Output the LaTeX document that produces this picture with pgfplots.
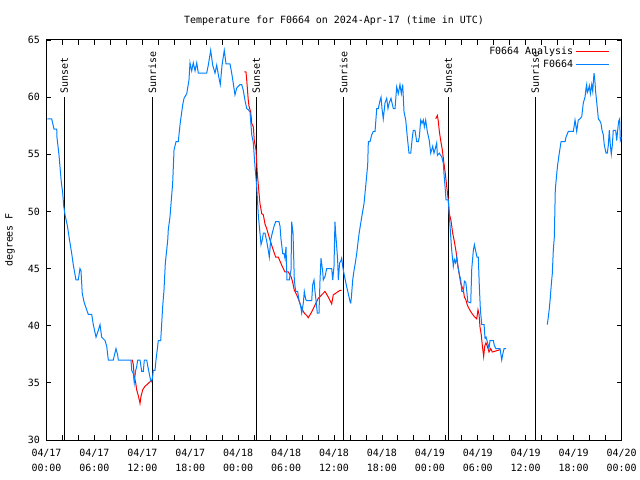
\documentclass[border=0pt]{standalone}
\usepackage{fontspec}
\setmainfont{DejaVu Sans Mono}
\usepackage{pgfplots}
\pgfplotsset{compat=1.18}
\definecolor{obsblue}{RGB}{0,128,255}
\definecolor{anared}{RGB}{255,0,0}
\begin{document}
\begin{tikzpicture}
\begin{axis}[
  name=ax, at={(0,0)}, anchor=south west,
  scale only axis, width=575bp, height=400bp,
  xmin=0, xmax=72, ymin=30, ymax=65,
  xtick={0,6,...,72}, minor xtick={0,2,...,72},
  xticklabels={{04/17\\00:00},{04/17\\06:00},{04/17\\12:00},{04/17\\18:00},{04/18\\00:00},{04/18\\06:00},{04/18\\12:00},{04/18\\18:00},{04/19\\00:00},{04/19\\06:00},{04/19\\12:00},{04/19\\18:00},{04/20\\00:00}},
  x tick label style={align=center, font=\fontsize{10}{15}\selectfont, yshift=-6bp},
  ytick={30,35,...,65},
  y tick label style={font=\fontsize{10}{12}\selectfont, xshift=-3bp, /pgf/number format/assume math mode=true},
  tick align=inside, major tick length=5bp, minor tick length=5bp,
  tick style={black, line width=0.8bp},
  axis line style={line width=1bp, black},
  unbounded coords=jump,
  legend plot pos=right, legend cell align=right,
  legend style={draw=none, fill=none, at={(1,1)}, anchor=north east, xshift=-9bp, yshift=-1bp,
    font=\fontsize{10}{13}\selectfont, row sep=-3bp,
    nodes={text height=9bp, text depth=3bp}},
]
% sunset / sunrise lines
\addplot[black, line width=1bp, forget plot] coordinates {(2.22,60) (2.22,30)};
\addplot[black, line width=1bp, forget plot] coordinates {(13.25,60) (13.25,30)};
\addplot[black, line width=1bp, forget plot] coordinates {(26.25,60) (26.25,30)};
\addplot[black, line width=1bp, forget plot] coordinates {(37.20,60) (37.20,30)};
\addplot[black, line width=1bp, forget plot] coordinates {(50.29,60) (50.29,30)};
\addplot[black, line width=1bp, forget plot] coordinates {(61.19,60) (61.19,30)};
\node[rotate=90, anchor=west, inner sep=0pt, font=\fontsize{10}{12}\selectfont] at (axis cs:2.22,60.3) {Sunset};
\node[rotate=90, anchor=west, inner sep=0pt, font=\fontsize{10}{12}\selectfont] at (axis cs:13.25,60.3) {Sunrise};
\node[rotate=90, anchor=west, inner sep=0pt, font=\fontsize{10}{12}\selectfont] at (axis cs:26.25,60.3) {Sunset};
\node[rotate=90, anchor=west, inner sep=0pt, font=\fontsize{10}{12}\selectfont] at (axis cs:37.20,60.3) {Sunrise};
\node[rotate=90, anchor=west, inner sep=0pt, font=\fontsize{10}{12}\selectfont] at (axis cs:50.29,60.3) {Sunset};
\node[rotate=90, anchor=west, inner sep=0pt, font=\fontsize{10}{12}\selectfont] at (axis cs:61.19,60.3) {Sunrise};
% F0664 Analysis
\addplot[anared, line width=1bp,
  legend image code/.code={\path (0bp,0bp) -- (33bp,0bp); \draw[color=anared, line width=1.2bp] (4bp,0bp) -- (33bp,0bp);}] coordinates {
(10.67,37.0) (10.74,37.0) (10.87,36.6) (10.99,35.5) (11.17,35.0) (11.29,34.4) (11.49,33.9) (11.62,33.5) (11.71,33.2) (11.83,33.8) (12.05,34.4) (12.33,34.7) (12.67,34.9) (12.96,35.1) (13.09,35.2)
(13.1,nan)
(24.77,62.2) (24.98,62.2) (25.07,61.5) (25.27,59.7) (25.36,59.2) (25.57,58.7) (25.70,57.7) (25.90,57.4) (26.02,56.2) (26.23,55.4) (26.40,53.3) (26.61,51.6) (26.73,50.7) (26.95,49.8) (27.15,49.7) (27.36,48.9) (27.57,48.5) (27.99,47.5) (28.40,46.6) (28.70,46.0) (29.03,46.0) (29.45,45.3) (29.86,44.7) (30.28,44.7) (30.62,44.3) (30.83,43.8) (31.03,43.1) (31.33,42.7) (31.62,42.2) (31.96,41.5) (32.28,41.1) (32.58,40.9) (32.78,40.7) (33.12,41.1) (33.62,41.8) (34.03,42.4) (34.46,42.7) (34.87,43.0) (35.29,42.5) (35.71,41.9) (35.91,42.7) (36.34,42.9) (36.75,43.1) (36.96,43.1)
(37.0,nan)
(48.74,58.1) (48.94,58.4) (49.06,57.9) (49.19,57.0) (49.36,56.2) (49.56,55.4) (49.77,54.2) (49.94,53.3) (50.11,52.2) (50.31,51.0) (50.44,49.8) (50.65,49.2) (50.86,48.1) (51.06,47.4) (51.28,46.5) (51.44,45.6) (51.66,44.6) (51.87,43.7) (52.20,43.1) (52.33,42.5) (52.54,42.2) (52.70,41.8) (52.91,41.5) (53.24,41.1) (53.57,40.8) (53.87,40.6) (54.03,41.4) (54.16,41.0) (54.28,39.9) (54.44,39.2) (54.57,38.3) (54.74,37.3) (54.87,38.2) (55.03,38.5) (55.20,38.2) (55.41,37.7) (55.62,38.0) (55.82,37.7) (56.79,37.9)
};
\addlegendentry{F0664 Analysis}
% F0664 observations
\addplot[obsblue, line width=1bp,
  legend image code/.code={\path (0bp,0bp) -- (33bp,0bp); \draw[color=obsblue, line width=1.2bp] (4bp,0bp) -- (33bp,0bp);}] coordinates {
(0.10,58.1) (0.65,58.1) (0.94,57.2) (1.28,57.2) (1.31,56.5) (1.57,54.9) (1.69,53.9) (1.85,52.6) (2.03,51.6) (2.15,50.5) (2.32,49.7) (2.60,48.8) (2.86,47.6) (3.16,46.3) (3.36,45.3) (3.69,44.0) (3.98,44.0) (4.19,45.0) (4.32,44.8) (4.48,42.8) (4.73,42.0) (5.03,41.4) (5.23,41.0) (5.66,41.0) (5.86,40.1) (6.20,39.0) (6.49,39.6) (6.70,40.1) (6.91,39.0) (7.33,38.7) (7.54,38.2) (7.74,37.0) (8.36,37.0) (8.70,38.0) (8.92,37.4) (8.99,37.0) (10.58,37.0) (10.67,36.1) (10.87,35.8) (10.99,35.0) (11.17,36.1) (11.29,36.4) (11.42,37.0) (11.71,37.0) (11.92,36.0) (12.12,36.0) (12.25,37.0) (12.55,37.0) (12.67,36.5) (12.87,35.8) (13.05,35.2) (13.17,35.1) (13.30,35.6) (13.37,36.1) (13.59,36.1) (13.71,37.0) (13.87,37.9) (14.00,38.7) (14.30,38.7) (14.55,41.7) (14.71,43.1) (14.88,45.5) (15.05,46.6) (15.18,47.5) (15.25,48.4) (15.46,49.5) (15.80,52.5) (15.97,55.4) (16.22,56.1) (16.50,56.1) (16.72,57.6) (17.05,59.3) (17.22,59.9) (17.56,60.3) (17.84,61.5) (17.97,63.0) (18.18,62.3) (18.38,63.0) (18.60,62.3) (18.81,63.0) (19.01,62.1) (20.06,62.1) (20.26,62.8) (20.56,64.1) (20.81,62.8) (21.10,62.1) (21.31,62.8) (21.56,61.8) (21.76,61.1) (21.98,62.8) (22.26,64.1) (22.48,62.9) (22.98,62.9) (23.19,62.1) (23.39,61.2) (23.60,60.2) (23.82,60.8) (24.23,61.1) (24.44,61.1) (24.64,60.6) (24.86,59.7) (25.07,59.0) (25.27,58.9) (25.48,58.7) (25.70,56.7) (25.90,56.0) (26.11,53.9) (26.32,52.2) (26.52,49.7) (26.73,48.1) (26.86,47.1) (27.02,47.5) (27.15,48.1) (27.36,48.1) (27.57,47.4) (27.77,46.6) (27.90,46.0) (28.07,47.5) (28.27,48.1) (28.49,48.7) (28.70,49.1) (29.11,49.1) (29.24,48.7) (29.36,47.6) (29.58,46.3) (29.74,46.3) (29.86,45.9) (29.99,46.9) (30.11,44.0) (30.40,44.0) (30.62,44.9) (30.70,49.1) (30.87,48.1) (31.03,44.0) (31.20,43.0) (31.45,43.0) (31.62,42.2) (31.83,41.7) (31.96,41.1) (32.16,42.0) (32.28,43.0) (32.46,42.3) (32.58,42.2) (33.00,42.2) (33.21,42.2) (33.33,43.6) (33.50,44.0) (33.62,43.0) (33.75,42.2) (33.91,41.1) (34.12,41.1) (34.25,44.0) (34.37,45.9) (34.50,45.2) (34.59,44.7) (34.66,44.0) (34.87,44.3) (35.09,45.0) (35.71,45.0) (35.84,44.0) (36.00,45.2) (36.12,49.1) (36.21,48.1) (36.34,46.9) (36.46,45.7) (36.54,44.0) (36.71,45.5) (36.88,45.7) (36.96,45.9) (37.09,45.2) (37.21,44.7) (37.38,44.1) (37.59,43.4) (37.79,42.8) (38.01,42.1) (38.10,42.0) (38.19,42.6) (38.34,44.0) (38.50,44.8) (38.67,45.5) (38.84,46.3) (39.04,47.5) (39.17,48.2) (39.47,49.5) (39.76,50.7) (40.01,52.5) (40.22,54.1) (40.30,56.1) (40.51,56.1) (40.72,56.7) (40.92,57.0) (41.14,57.0) (41.35,59.0) (41.55,59.0) (41.76,59.7) (41.89,60.0) (42.01,59.0) (42.17,58.1) (42.39,59.5) (42.60,59.9) (42.76,59.0) (42.92,59.5) (43.14,59.9) (43.26,59.5) (43.43,59.0) (43.64,59.0) (43.85,60.9) (44.05,60.3) (44.26,61.1) (44.43,60.3) (44.60,61.1) (44.77,58.7) (44.98,58.0) (45.18,56.5) (45.39,55.1) (45.61,55.1) (45.81,56.5) (45.93,57.1) (46.14,57.1) (46.36,56.1) (46.56,56.1) (46.68,56.5) (46.86,58.0) (47.02,57.7) (47.18,58.0) (47.31,57.4) (47.48,58.0) (47.68,57.0) (47.93,56.2) (48.11,55.1) (48.36,55.7) (48.52,55.1) (48.65,55.4) (48.86,56.0) (48.94,54.9) (49.19,55.1) (49.36,54.9) (49.49,54.8) (49.69,54.2) (49.77,53.3) (49.90,52.2) (50.03,51.0) (50.31,51.0) (50.53,48.7) (50.65,47.5) (50.74,46.6) (50.94,45.2) (51.07,45.8) (51.22,45.5) (51.37,46.0) (51.50,45.2) (51.66,44.6) (51.87,44.0) (52.00,43.0) (52.20,43.0) (52.33,43.9) (52.50,43.8) (52.63,43.0) (52.75,42.1) (53.12,42.0) (53.25,45.0) (53.45,46.6) (53.58,47.1) (53.75,46.5) (53.91,46.0) (54.07,46.0) (54.20,43.4) (54.33,41.4) (54.50,40.1) (54.79,40.1) (54.91,38.9) (55.04,39.0) (55.20,38.6) (55.41,38.0) (55.53,38.7) (55.95,38.7) (56.07,38.3) (56.25,38.0) (56.79,38.0) (57.00,37.0) (57.13,37.5) (57.29,38.0) (57.54,38.0)
(60.0,nan)
(62.71,40.1) (62.84,40.8) (62.96,41.5) (63.09,42.5) (63.21,43.6) (63.34,44.6) (63.46,46.6) (63.59,47.8) (63.71,51.9) (63.89,53.3) (64.01,54.1) (64.21,55.1) (64.43,56.1) (64.93,56.1) (65.05,56.5) (65.34,57.0) (65.97,57.0) (66.18,58.0) (66.39,57.0) (66.59,58.0) (66.80,58.1) (67.02,58.3) (67.22,59.5) (67.43,60.0) (67.56,60.8) (67.64,61.1) (67.72,60.4) (67.84,60.6) (67.97,61.0) (68.10,60.3) (68.27,61.1) (68.40,60.5) (68.47,61.3) (68.56,62.1) (68.68,61.3) (68.77,60.4) (68.89,59.6) (69.02,58.7) (69.10,58.1) (69.31,57.9) (69.43,57.7) (69.56,57.1) (69.72,56.7) (69.85,55.8) (70.06,55.1) (70.22,55.1) (70.35,55.8) (70.47,57.1) (70.60,55.8) (70.72,55.0) (70.85,55.8) (70.97,57.1) (71.27,57.1) (71.40,56.2) (71.52,57.1) (71.65,57.9) (71.77,58.1) (71.85,56.2) (72.0,56.5)
};
\addlegendentry{F0664}
\end{axis}
\node[font=\fontsize{10}{12}\selectfont] at ([yshift=19bp]ax.north) {Temperature for F0664 on 2024-Apr-17 (time in UTC)};
\node[rotate=90, font=\fontsize{10}{12}\selectfont] at ([xshift=-36.5bp]ax.west) {degrees F};
\pgfresetboundingbox
\path[use as bounding box] (-46.5bp,-40bp) rectangle (593.5bp,440bp);
\end{tikzpicture}
\end{document}
